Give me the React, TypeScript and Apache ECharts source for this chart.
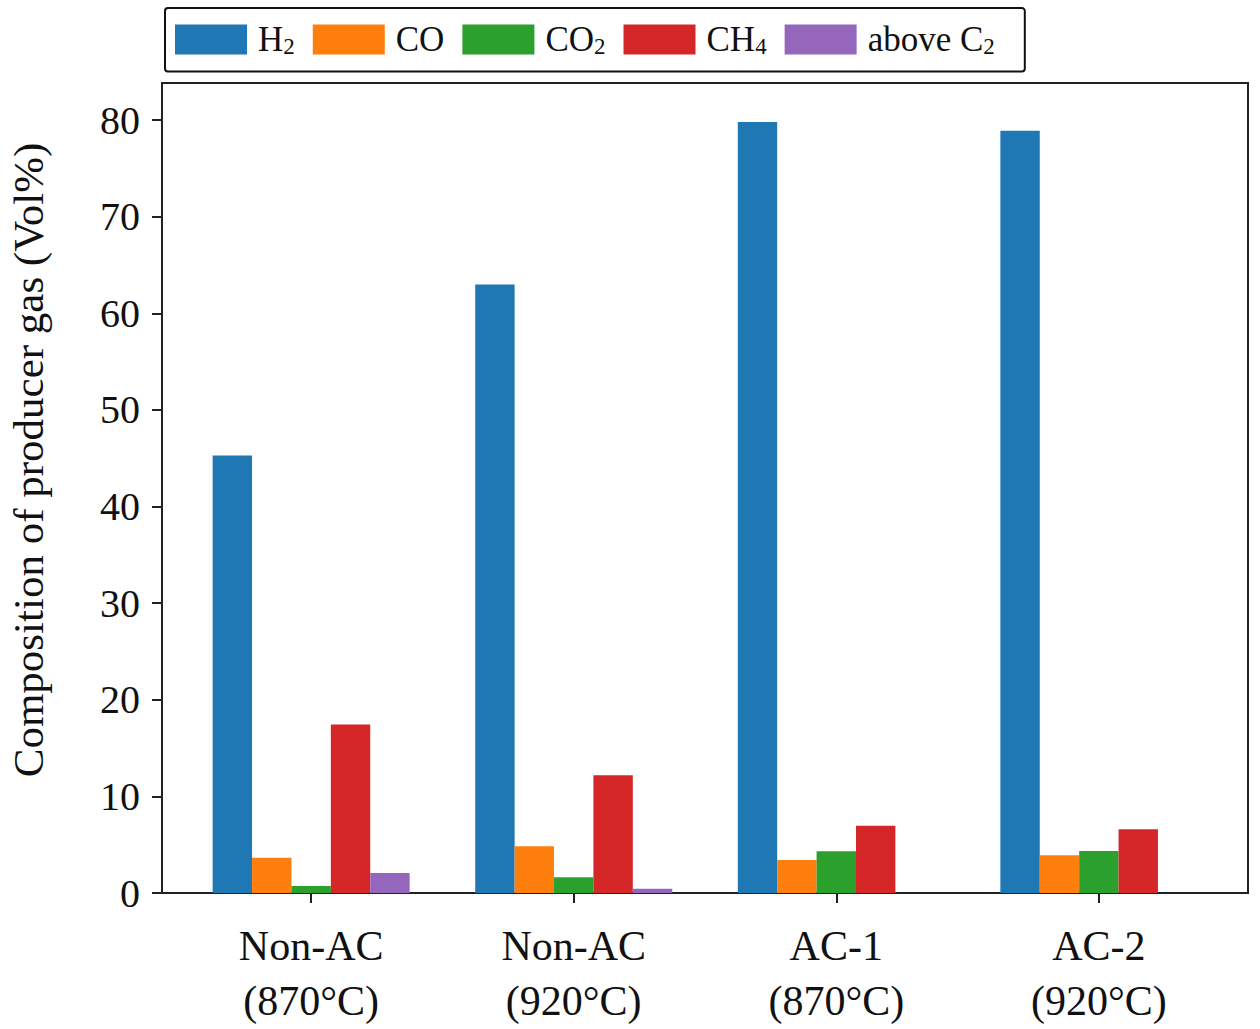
import React, { useEffect, useRef } from "react";
import * as echarts from "echarts";

const categories = ["Non-AC\n(870°C)", "Non-AC\n(920°C)", "AC-1\n(870°C)", "AC-2\n(920°C)"];
const seriesNames = ["H2", "CO", "CO2", "CH4", "above C2"];
const legendRich = ["{n|H}{s|2}", "{n|CO}", "{n|CO}{s|2}", "{n|CH}{s|4}", "{n|above C}{s|2}"];
const colors = ["#1f77b4", "#ff7f0e", "#2ca02c", "#d62728", "#9467bd"];
const h2 = [45.3, 63.0, 79.8, 78.9];
const co = [3.66, 4.83, 3.42, 3.9];
const co2 = [0.72, 1.62, 4.31, 4.35];
const ch4 = [17.43, 12.18, 6.97, 6.59];
const aboveC2 = [2.07, 0.45, null, null];
const yTicks = [0, 10, 20, 30, 40, 50, 60, 70, 80];
const xTicks = [0, 1, 2, 3];
const yTitle = "Composition of producer gas (Vol%)";

const FONT = "'Liberation Serif', 'Times New Roman', serif";

export default function App() {
  const ref = useRef<HTMLDivElement>(null);
  useEffect(() => {
    if (!ref.current) return;
    const chart = echarts.init(ref.current, null, { renderer: "svg" });
    const values = [h2, co, co2, ch4, aboveC2];
    const series = seriesNames.map((name, si) => ({
      name,
      type: "bar",
      barWidth: 39.4,
      barGap: "0%",
      itemStyle: { color: colors[si] },
      data: values[si]
        .map((v, i) => (v === null ? null : [i, v]))
        .filter((d) => d !== null),
    }));
    chart.setOption({
      animation: false,
      backgroundColor: "#fff",
      legend: {
        data: seriesNames,
        left: 165,
        top: 8,
        orient: "horizontal",
        itemWidth: 72,
        itemHeight: 30,
        itemGap: 18,
        padding: [14, 30, 14, 10],
        borderColor: "#111",
        borderWidth: 2,
        borderRadius: 3,
        icon: "rect",
        formatter: (name: string) => legendRich[seriesNames.indexOf(name)],
        textStyle: {
          fontFamily: FONT,
          color: "#111",
          rich: {
            n: { fontFamily: FONT, fontSize: 35, lineHeight: 36, color: "#111", padding: [0, 0, 0, 6] },
            s: { fontFamily: FONT, fontSize: 23, lineHeight: 6, verticalAlign: "bottom", color: "#111" },
          },
        },
      },
      grid: {
        left: 162,
        right: 12,
        top: 83,
        bottom: 136,
        show: true,
        borderColor: "#222",
        borderWidth: 2,
        backgroundColor: "transparent",
      },
      xAxis: {
        type: "value",
        min: -0.568,
        max: 3.568,
        splitLine: { show: false },
        axisLine: { show: true, onZero: false, lineStyle: { color: "#222", width: 2 } },
        axisTick: {
          show: true,
          customValues: xTicks,
          length: 10,
          lineStyle: { color: "#222", width: 2 },
        },
        axisLabel: {
          customValues: xTicks,
          formatter: (v: number) => categories[Math.round(v)] ?? "",
          fontFamily: FONT,
          fontSize: 42,
          lineHeight: 55,
          color: "#111",
          margin: 25,
        },
      },
      yAxis: {
        type: "value",
        min: 0,
        max: 83.85,
        splitLine: { show: false },
        axisLine: { show: true, onZero: false, lineStyle: { color: "#222", width: 2 } },
        axisTick: {
          show: true,
          customValues: yTicks,
          length: 10,
          lineStyle: { color: "#222", width: 2 },
        },
        axisLabel: {
          customValues: yTicks,
          fontFamily: FONT,
          fontSize: 40,
          color: "#111",
          margin: 22,
        },
      },
      graphic: [
        {
          type: "text",
          x: 28,
          y: 460,
          rotation: Math.PI / 2,
          style: {
            text: yTitle,
            fontFamily: FONT,
            fontSize: 43,
            fill: "#111",
            textAlign: "center",
            textVerticalAlign: "middle",
          },
        },
      ],
      series,
    });
    return () => chart.dispose();
  }, []);
  return (
    <div
      ref={ref}
      style={{ position: "fixed", left: 0, top: 0, width: 1260, height: 1029, background: "#fff" }}
    />
  );
}
